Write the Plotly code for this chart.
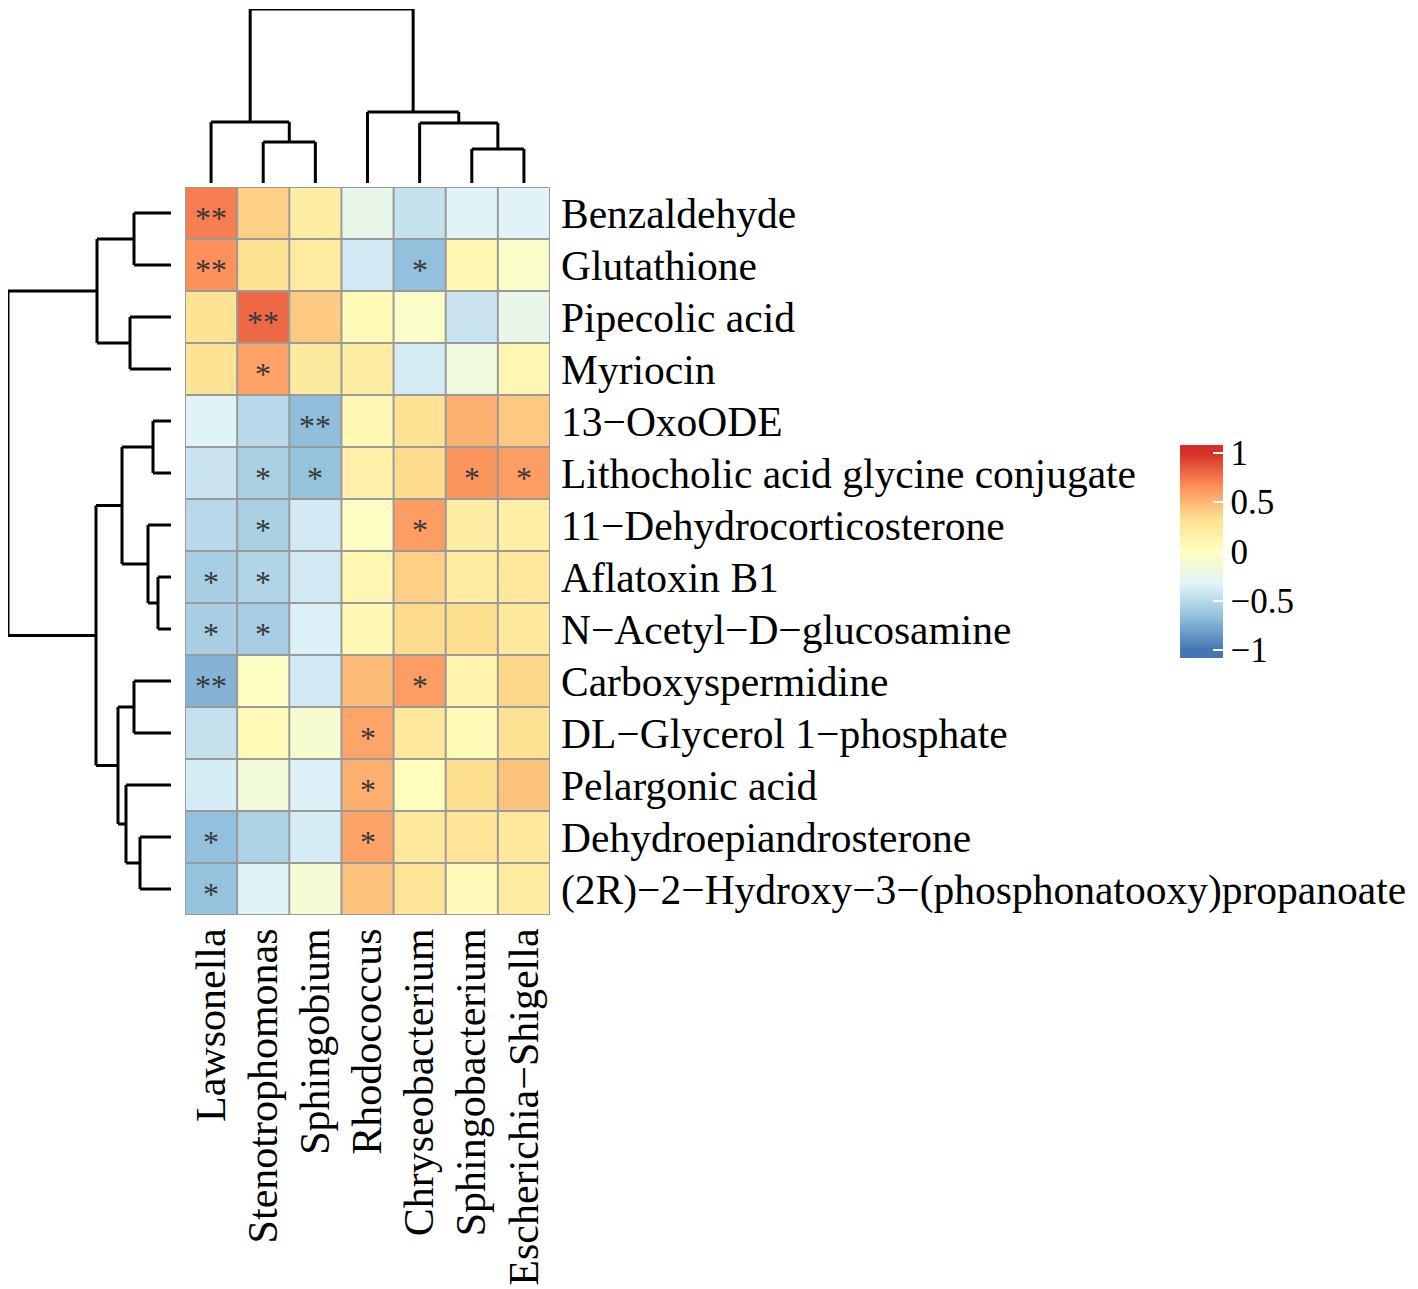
import plotly.graph_objects as go

OFF = 8  # page body margin in the browser
W, H = 1418 - OFF, 1289 - OFF

columns = ["Lawsonella", "Stenotrophomonas", "Sphingobium", "Rhodococcus",
           "Chryseobacterium", "Sphingobacterium", "Escherichia−Shigella"]
rows = ["Benzaldehyde", "Glutathione", "Pipecolic acid", "Myriocin", "13−OxoODE",
        "Lithocholic acid glycine conjugate", "11−Dehydrocorticosterone", "Aflatoxin B1",
        "N−Acetyl−D−glucosamine", "Carboxyspermidine", "DL−Glycerol 1−phosphate",
        "Pelargonic acid", "Dehydroepiandrosterone",
        "(2R)−2−Hydroxy−3−(phosphonatooxy)propanoate"]

values = [
    [0.72, 0.40, 0.20, -0.25, -0.45, -0.33, -0.32],
    [0.65, 0.30, 0.22, -0.40, -0.66, 0.10, -0.05],
    [0.30, 0.80, 0.42, 0.05, -0.05, -0.43, -0.25],
    [0.30, 0.58, 0.23, 0.20, -0.38, -0.18, 0.10],
    [-0.33, -0.50, -0.67, 0.08, 0.30, 0.52, 0.43],
    [-0.43, -0.56, -0.65, 0.15, 0.35, 0.63, 0.60],
    [-0.50, -0.56, -0.40, -0.03, 0.60, 0.20, 0.18],
    [-0.57, -0.53, -0.40, 0.10, 0.40, 0.22, 0.26],
    [-0.57, -0.58, -0.35, 0.08, 0.35, 0.34, 0.25],
    [-0.72, -0.03, -0.40, 0.48, 0.60, 0.13, 0.37],
    [-0.45, 0.05, -0.10, 0.57, 0.25, 0.05, 0.30],
    [-0.37, -0.15, -0.35, 0.53, 0.02, 0.34, 0.45],
    [-0.66, -0.55, -0.37, 0.58, 0.25, 0.29, 0.25],
    [-0.65, -0.32, -0.12, 0.45, 0.28, 0.03, 0.20],
]

signif = [
    ["**", "", "", "", "", "", ""],
    ["**", "", "", "", "*", "", ""],
    ["", "**", "", "", "", "", ""],
    ["", "*", "", "", "", "", ""],
    ["", "", "**", "", "", "", ""],
    ["", "*", "*", "", "", "*", "*"],
    ["", "*", "", "", "*", "", ""],
    ["*", "*", "", "", "", "", ""],
    ["*", "*", "", "", "", "", ""],
    ["**", "", "", "", "*", "", ""],
    ["", "", "", "*", "", "", ""],
    ["", "", "", "*", "", "", ""],
    ["*", "", "", "*", "", "", ""],
    ["*", "", "", "", "", "", ""],
]

# hierarchical merges: (child_a, child_b, height); children are leaf names or merge indices
col_merges = [
    ("Sphingobacterium", "Escherichia−Shigella", 34),
    ("Stenotrophomonas", "Sphingobium", 41),
    ("Chryseobacterium", 0, 60),
    ("Lawsonella", 1, 61),
    ("Rhodococcus", 2, 71),
    (3, 4, 174),
]
row_merges = [
    ("Aflatoxin B1", "N−Acetyl−D−glucosamine", 13),
    ("13−OxoODE", "Lithocholic acid glycine conjugate", 18),
    ("11−Dehydrocorticosterone", 0, 23),
    ("Dehydroepiandrosterone", "(2R)−2−Hydroxy−3−(phosphonatooxy)propanoate", 31),
    ("Benzaldehyde", "Glutathione", 37),
    ("Carboxyspermidine", "DL−Glycerol 1−phosphate", 37),
    ("Pipecolic acid", "Myriocin", 41),
    ("Pelargonic acid", 3, 45),
    (1, 2, 49),
    (5, 7, 53),
    (4, 6, 74),
    (8, 9, 75),
    (10, 11, 163),
]

cbar_ticks = [1, 0.5, 0, -0.5, -1]
cbar_text = ["1", "0.5", "0", "−0.5", "−1"]

palette = ["#4575B4", "#91BFDB", "#E0F3F8", "#FFFFBF", "#FEE090", "#FC8D59", "#D73027"]
ZLIM = 1.08
SERIF = "Liberation Serif, Times New Roman, serif"


def dendro_segments(merges, leaves):
    pos = {}
    hts = {}
    for i, name in enumerate(leaves):
        pos[name] = float(i)
        hts[name] = 0.0
    segs = []
    for k, (a, b, h) in enumerate(merges):
        pa, pb = pos[a], pos[b]
        segs.append(((pa, hts[a]), (pa, h)))
        segs.append(((pb, hts[b]), (pb, h)))
        segs.append(((pa, h), (pb, h)))
        pos[k] = (pa + pb) / 2
        hts[k] = h
    return segs


def px_x(p):
    return (p - OFF) / W


def px_y(p):
    return 1 - (p - OFF) / H


heat_x = [px_x(185), px_x(550)]
heat_y = [px_y(915), px_y(187)]

cs = [[0.0, palette[0]]]
for k, c in enumerate(palette):
    v = -1 + k / 3
    cs.append([(v + ZLIM) / (2 * ZLIM), c])
cs.append([1.0, palette[-1]])

fig = go.Figure()

fig.add_trace(go.Heatmap(
    z=values, x=list(range(len(columns))), y=list(range(len(rows))),
    zmin=-ZLIM, zmax=ZLIM, colorscale=cs, xgap=0, ygap=0,
    hoverinfo="skip",
    colorbar=dict(
        x=px_x(1180), xanchor="left", xpad=0,
        y=px_y(551.5), yanchor="middle", ypad=0,
        len=213, lenmode="pixels", thickness=43, thicknessmode="pixels",
        outlinewidth=0, tickvals=cbar_ticks, ticktext=cbar_text,
        ticks="inside", ticklen=10, tickwidth=2, tickcolor="white",
        tickfont=dict(family=SERIF, size=35, color="black"),
    ),
))

shapes = []
for i in range(len(columns) + 1):
    shapes.append(dict(type="line", xref="x", yref="y", x0=i - 0.5, x1=i - 0.5,
                       y0=-0.5, y1=len(rows) - 0.5, line=dict(color="#9A9A9A", width=2)))
for j in range(len(rows) + 1):
    shapes.append(dict(type="line", xref="x", yref="y", y0=j - 0.5, y1=j - 0.5,
                       x0=-0.5, x1=len(columns) - 0.5, line=dict(color="#9A9A9A", width=2)))

# left white dashes on the colorbar
bar_top = 445
bar_len = 213
for t in cbar_ticks:
    ypix = bar_top + (ZLIM - t) / (2 * ZLIM) * bar_len
    shapes.append(dict(type="line", xref="paper", yref="paper",
                       x0=px_x(1180), x1=px_x(1190), y0=px_y(ypix), y1=px_y(ypix),
                       line=dict(color="white", width=2)))

for (x0, h0), (x1, h1) in dendro_segments(col_merges, columns):
    shapes.append(dict(type="line", xref="x2", yref="y2", x0=x0, x1=x1, y0=h0, y1=h1,
                       line=dict(color="black", width=3)))
for (y0, h0), (y1, h1) in dendro_segments(row_merges, rows):
    shapes.append(dict(type="line", xref="x3", yref="y3", x0=h0, x1=h1, y0=y0, y1=y1,
                       line=dict(color="black", width=3)))

annotations = []
for r, rowmarks in enumerate(signif):
    for c, m in enumerate(rowmarks):
        if m:
            annotations.append(dict(x=c, y=r, xref="x", yref="y", text=m, showarrow=False,
                                    font=dict(family=SERIF, size=32, color="#383838"),
                                    yshift=-5))

fig.update_layout(
    width=W, height=H,
    margin=dict(l=0, r=0, t=0, b=0, autoexpand=False),
    paper_bgcolor="white", plot_bgcolor="white",
    showlegend=False,
    shapes=shapes, annotations=annotations,
    xaxis=dict(domain=heat_x, range=[-0.5, len(columns) - 0.5], tickmode="array",
               tickvals=list(range(len(columns))), ticktext=columns, tickangle=-90,
               side="bottom", showgrid=False, zeroline=False, showline=False, ticks="",
               ticklabelstandoff=4,
               tickfont=dict(family=SERIF, size=42, color="black")),
    yaxis=dict(domain=heat_y, range=[len(rows) - 0.5, -0.5], tickmode="array",
               tickvals=list(range(len(rows))), ticktext=rows, side="right",
               showgrid=False, zeroline=False, showline=False, ticks="",
               ticklabelstandoff=10,
               tickfont=dict(family=SERIF, size=41.5, color="black")),
    xaxis2=dict(domain=heat_x, range=[-0.5, len(columns) - 0.5], visible=False, anchor="y2"),
    yaxis2=dict(domain=[px_y(183), px_y(9)], range=[0, 174], visible=False, anchor="x2"),
    xaxis3=dict(domain=[px_x(8), px_x(171)], range=[163, 0], visible=False, anchor="y3"),
    yaxis3=dict(domain=heat_y, range=[len(rows) - 0.5, -0.5], visible=False, anchor="x3"),
)

fig.add_trace(go.Scatter(x=[0], y=[0], xaxis="x2", yaxis="y2", mode="markers",
                         marker=dict(opacity=0), hoverinfo="skip"))
fig.add_trace(go.Scatter(x=[0], y=[0], xaxis="x3", yaxis="y3", mode="markers",
                         marker=dict(opacity=0), hoverinfo="skip"))

fig.write_html("out.html")
